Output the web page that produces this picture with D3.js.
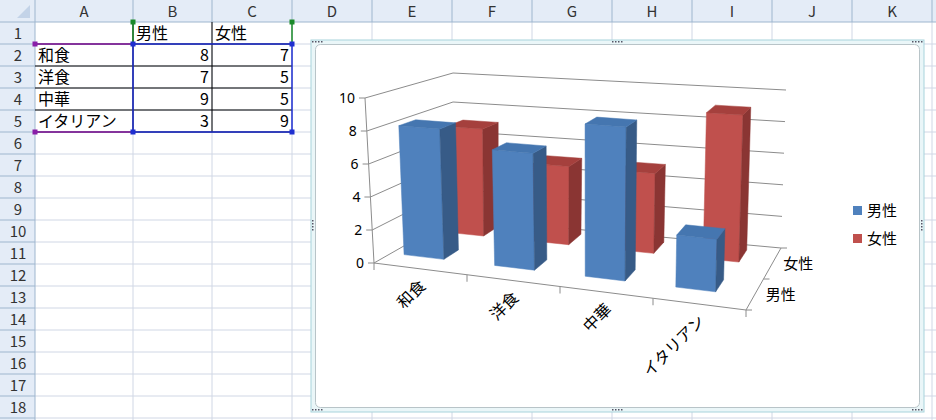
<!DOCTYPE html>
<html><head><meta charset="utf-8">
<script src="https://cdn.jsdelivr.net/npm/d3@7"></script>
<style>body{margin:0;background:#fff}svg{display:block}</style>
</head><body><svg id="c" width="936" height="420"></svg>
<script>
const categories = ["和食","洋食","中華","イタリアン"];
const seriesNames = ["男性","女性"];
const male = [8,7,9,3];
const female = [7,5,5,9];
const yTicks = [0,2,4,6,8,10];
const colLetters = ["A","B","C","D","E","F","G","H","I","J","K"];

const svg = d3.select("#c");
const JP = "'Noto Sans CJK JP','Noto Sans',sans-serif";

// ---------- spreadsheet ----------
const colX = d3.scaleOrdinal().domain(colLetters).range([35,133,212,292,372,452,532,612,692,772,852]);
const colW = c => c==="A"?98:(c==="B"?79:80);
const rowY = d3.scaleLinear().domain([1,2]).range([22,44]);
const g0 = svg.append("g");
for(let r=1;r<=18;r++){
  g0.append("line").attr("x1",35).attr("x2",936).attr("y1",rowY(r+1)).attr("y2",rowY(r+1)).attr("stroke","#d0d7e5");
}
colLetters.forEach(c=>{
  g0.append("line").attr("x1",colX(c)+colW(c)).attr("x2",colX(c)+colW(c)).attr("y1",22).attr("y2",420).attr("stroke","#d0d7e5");
});
g0.append("rect").attr("x",0).attr("y",0).attr("width",936).attr("height",22).attr("fill","#e4ecf7");
g0.append("rect").attr("x",0).attr("y",0).attr("width",35).attr("height",420).attr("fill","#e4ecf7");
g0.append("line").attr("x1",0).attr("x2",936).attr("y1",22).attr("y2",22).attr("stroke","#9eb6ce");
g0.append("line").attr("x1",35).attr("x2",35).attr("y1",0).attr("y2",420).attr("stroke","#9eb6ce");
g0.append("path").attr("d","M30,5 L30,18 L17,18 Z").attr("fill","#c3d3e8");
colLetters.forEach(c=>{
  g0.append("line").attr("x1",colX(c)+colW(c)).attr("x2",colX(c)+colW(c)).attr("y1",0).attr("y2",22).attr("stroke","#9eb6ce");
  g0.append("text").attr("x",colX(c)+colW(c)/2).attr("y",17).attr("text-anchor","middle").attr("font-family",JP).attr("font-size",15).attr("fill","#333").text(c);
});
for(let r=1;r<=18;r++){
  g0.append("line").attr("x1",0).attr("x2",35).attr("y1",rowY(r+1)).attr("y2",rowY(r+1)).attr("stroke","#9eb6ce");
  g0.append("text").attr("x",18).attr("y",rowY(r)+17).attr("text-anchor","middle").attr("font-family",JP).attr("font-size",15).attr("fill","#333").text(r);
}
// table borders
for(let r=2;r<=6;r++) g0.append("line").attr("x1",35).attr("x2",292).attr("y1",rowY(r)).attr("y2",rowY(r)).attr("stroke","#000");
[133,212].forEach(x=>g0.append("line").attr("x1",x).attr("x2",x).attr("y1",22).attr("y2",132).attr("stroke","#000"));
// cell text
const cellFont = 16;
seriesNames.forEach((s,i)=>{
  g0.append("text").attr("x",colX(colLetters[i+1])+3).attr("y",rowY(1)+17).attr("font-family",JP).attr("font-size",cellFont).text(s);
});
categories.forEach((c,i)=>{
  g0.append("text").attr("x",38).attr("y",rowY(i+2)+17).attr("font-family",JP).attr("font-size",cellFont).text(c);
  [male[i],female[i]].forEach((v,j)=>{
    const col=colLetters[j+1];
    g0.append("text").attr("x",colX(col)+colW(col)-3).attr("y",rowY(i+2)+17).attr("text-anchor","end").attr("font-family",JP).attr("font-size",cellFont).text(v);
  });
});
// range highlights
g0.append("path").attr("d","M133,22 V44 M292,22 V44").attr("stroke","#1a8a2a").attr("stroke-width",1.5);
g0.append("path").attr("d","M35,44 H133 M35,132 H133").attr("stroke","#8a1fa8").attr("stroke-width",1.5);
g0.append("rect").attr("x",133).attr("y",44).attr("width",159).attr("height",88).attr("fill","none").attr("stroke","#1f2fd0").attr("stroke-width",1.5);
[[133,22,"#1a8a2a"],[292,22,"#1a8a2a"],[35,44,"#8a1fa8"],[35,132,"#8a1fa8"],[133,44,"#1f2fd0"],[292,44,"#1f2fd0"],[133,132,"#1f2fd0"],[292,132,"#1f2fd0"]].forEach(([x,y,c])=>{
  g0.append("rect").attr("x",x-2.5).attr("y",y-2.5).attr("width",5).attr("height",5).attr("fill",c);
});

// ---------- chart frame ----------
const gf = svg.append("g");
gf.append("rect").attr("x",311).attr("y",40).attr("width",613).attr("height",372).attr("fill","#eaf6f8").attr("stroke","#a8d4dc");
gf.append("rect").attr("x",315.5).attr("y",44.5).attr("width",604).attr("height",363).attr("rx",5).attr("fill","#fff").attr("stroke","#b8c4c8");
const dots=(x,y,h)=>{for(let k=0;k<4;k++){gf.append("rect").attr("x",h?x+k*3:x).attr("y",h?y:y+k*3).attr("width",1.5).attr("height",1.5).attr("fill","#556");}};
dots(612,41,true);dots(612,409,true);dots(312,220,false);dots(921,220,false);
dots(312,41,true);dots(312,409,true);dots(912,41,true);dots(912,409,true);

// ---------- 3D chart ----------
const cScale = d3.scaleLinear().domain([0,categories.length]).range([0,1]);
const sScale = d3.scaleLinear().domain([0,1]).range([0,1]);
const vScale = d3.scaleLinear().domain([0,10]).range([0,1]);
const bottom = {FL:[374,263],FR:[746,310],BL:[453,218],BR:[781,248]};
const top10 = {FL:[365,98],FR:[752,128],BL:[453,73],BR:[786,90]};
const bil = (q,u,w)=>{
  const f=[q.FL[0]+(q.FR[0]-q.FL[0])*u, q.FL[1]+(q.FR[1]-q.FL[1])*u];
  const b=[q.BL[0]+(q.BR[0]-q.BL[0])*u, q.BL[1]+(q.BR[1]-q.BL[1])*u];
  return [f[0]+(b[0]-f[0])*w, f[1]+(b[1]-f[1])*w];
};
const P = (c,s,v)=>{
  const u=cScale(c), w=sScale(s), t=vScale(v);
  const a=bil(bottom,u,w), b=bil(top10,u,w);
  return [a[0]+(b[0]-a[0])*t, a[1]+(b[1]-a[1])*t];
};
const gc = svg.append("g");
const gridCol="#8c8c8c";
const line = d3.line();
yTicks.forEach(v=>{
  gc.append("path").attr("d",line([P(0,0,v),P(0,1,v),P(4,1,v)])).attr("fill","none").attr("stroke",gridCol).attr("stroke-width",1);
  gc.append("path").attr("d",line([P(0,0,v),[P(0,0,v)[0]-6,P(0,0,v)[1]]])).attr("stroke",gridCol);
  gc.append("text").attr("x",P(0,0,v)[0]-10).attr("y",P(0,0,v)[1]+5).attr("text-anchor","end").attr("font-family","'Noto Sans',sans-serif").attr("font-size",14).text(v);
});
gc.append("path").attr("d",line([P(0,0,0),P(0,0,10)])).attr("stroke",gridCol);
gc.append("path").attr("d",line([P(0,0,0),P(4,0,0),P(4,1,0)])).attr("fill","none").attr("stroke",gridCol);
for(let i=0;i<=categories.length;i++){
  const p=P(i,0,0);
  gc.append("path").attr("d",line([p,[p[0],p[1]+7]])).attr("stroke",gridCol);
}
[0,0.5,1].forEach(s=>{const p=P(4,s,0);gc.append("path").attr("d",line([p,[p[0]+6,p[1]]])).attr("stroke",gridCol);});
seriesNames.forEach((n,j)=>{
  const p=P(4,j*0.5+0.25,0);
  gc.append("text").attr("x",p[0]+11).attr("y",p[1]+5).attr("font-family",JP).attr("font-size",15).text(n);
});
categories.forEach((c,i)=>{
  const p=P(i+0.5,0,0);
  gc.append("text").attr("transform",`translate(${p[0]+6},${p[1]+18}) rotate(-45)`).attr("text-anchor","end").attr("font-family",JP).attr("font-size",16).text(c);
});
const series=[
  {vals:female, s0:0.72, s1:0.92, c0:0.2, c1:0.62, front:"#c0504d", side:"#8a3533", top:"#a5403d"},
  {vals:male, s0:0.22, s1:0.42, c0:0.14, c1:0.58, front:"#4f81bd", side:"#375b87", top:"#4576b0"}
];
series.forEach(se=>{
  se.vals.forEach((v,i)=>{
    const a=i+se.c0, b=i+se.c1;
    const face=(pts,fill)=>gc.append("path").attr("d",line(pts)+"Z").attr("fill",fill).attr("stroke",fill).attr("stroke-width",0.5);
    face([P(a,se.s0,0),P(b,se.s0,0),P(b,se.s0,v),P(a,se.s0,v)],se.front);
    face([P(b,se.s0,0),P(b,se.s1,0),P(b,se.s1,v),P(b,se.s0,v)],se.side);
    face([P(a,se.s0,v),P(b,se.s0,v),P(b,se.s1,v),P(a,se.s1,v)],se.top);
  });
});
seriesNames.forEach((n,j)=>{
  gc.append("rect").attr("x",853).attr("y",206+j*28).attr("width",9).attr("height",9).attr("fill",series[1-j].front);
  gc.append("text").attr("x",867).attr("y",216+j*28).attr("font-family",JP).attr("font-size",15).text(n);
});
</script></body></html>
